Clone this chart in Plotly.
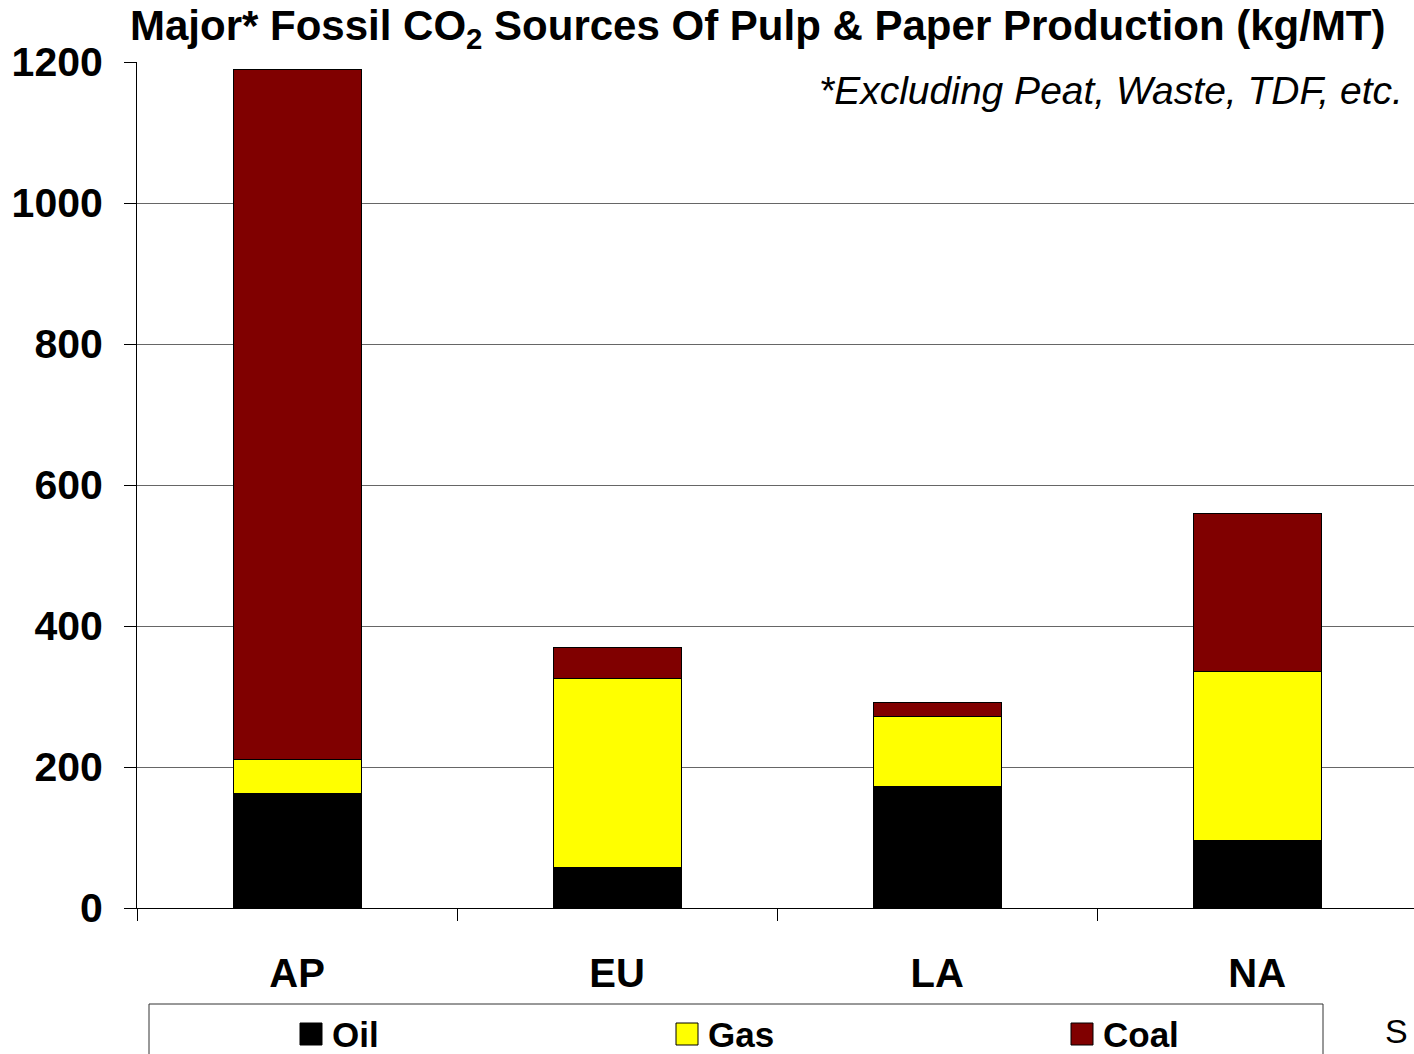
import plotly.graph_objects as go

# Regions and per-fuel CO2 contributions (kg per metric tonne)
regions = ["AP", "EU", "LA", "NA"]
oil = [163, 57, 172, 96]
gas = [48, 268, 100, 240]
coal = [979, 44, 19, 224]

series_names = ["Oil", "Gas", "Coal"]
series_colors = ["#000000", "#FFFF00", "#800000"]
series_values = [oil, gas, coal]

y_ticks = [0, 200, 400, 600, 800, 1000, 1200]

W, H = 1414, 1054
ML, MR, MT, MB = 137, 0, 62, 146
PW, PH = W - ML - MR, H - MT - MB
FONT = "Liberation Sans, Arial, sans-serif"


def px_x(px):
    return (px - ML) / PW


def px_y(py):
    return (H - MB - py) / PH


fig = go.Figure()
for name, color, vals in zip(series_names, series_colors, series_values):
    fig.add_trace(go.Bar(
        x=regions, y=vals, name=name,
        marker=dict(color=color, line=dict(color="#000000", width=1)),
        showlegend=False,
    ))

fig.update_layout(
    barmode="stack",
    bargap=0.6,
    width=W, height=H, autosize=False,
    margin=dict(l=ML, r=MR, t=MT, b=MB, pad=0),
    plot_bgcolor="white", paper_bgcolor="white",
    font=dict(family=FONT, color="black"),
    xaxis=dict(
        range=[-0.5, 3.49],
        showline=True, linecolor="black", linewidth=1,
        ticks="outside", ticklen=12, tickcolor="black", tickwidth=1,
        tickson="boundaries",
        showgrid=False,
        tickfont=dict(size=40, family=FONT, weight="bold"),
        ticklabelstandoff=30,
    ),
    yaxis=dict(
        range=[0, 1200],
        tickvals=y_ticks,
        showline=True, linecolor="black", linewidth=1,
        ticks="outside", ticklen=12, tickcolor="black", tickwidth=1,
        showgrid=True, gridcolor="#666666", gridwidth=1,
        zeroline=False,
        tickfont=dict(size=41, family=FONT, weight="bold"),
        ticklabelstandoff=13,
    ),
)

# Title and footnote
fig.add_annotation(
    text="<b>Major* Fossil CO<sub>2</sub> Sources Of Pulp &amp; Paper Production (kg/MT)</b>",
    xref="paper", yref="paper", x=px_x(758), y=px_y(28),
    xanchor="center", yanchor="middle", showarrow=False,
    font=dict(size=42, family=FONT, color="black"),
)
fig.add_annotation(
    text="<i>*Excluding Peat, Waste, TDF, etc.</i>",
    xref="paper", yref="paper", x=px_x(1405), y=px_y(90),
    xanchor="right", yanchor="middle", showarrow=False,
    font=dict(size=39, family=FONT, color="black"),
)

# Legend box along the bottom
fig.add_shape(
    type="rect", xref="paper", yref="paper",
    x0=px_x(149), x1=px_x(1323), y0=px_y(1004), y1=px_y(1080),
    line=dict(color="#333333", width=1), fillcolor="rgba(0,0,0,0)",
)
swatch_x = [300, 676, 1071]
for name, color, sx in zip(series_names, series_colors, swatch_x):
    fig.add_shape(
        type="rect", xref="paper", yref="paper",
        x0=px_x(sx), x1=px_x(sx + 22), y0=px_y(1045), y1=px_y(1023),
        line=dict(color="#000000", width=1), fillcolor=color,
    )
    fig.add_annotation(
        text="<b>" + name + "</b>",
        xref="paper", yref="paper", x=px_x(sx + 30), y=px_y(1034),
        xanchor="left", yanchor="middle", showarrow=False,
        font=dict(size=35, family=FONT, color="black"),
    )

fig.add_annotation(
    text="S", xref="paper", yref="paper", x=px_x(1383), y=px_y(1031),
    xanchor="left", yanchor="middle", showarrow=False,
    font=dict(size=34, family=FONT, color="black"),
)

fig.write_html("out.html")
